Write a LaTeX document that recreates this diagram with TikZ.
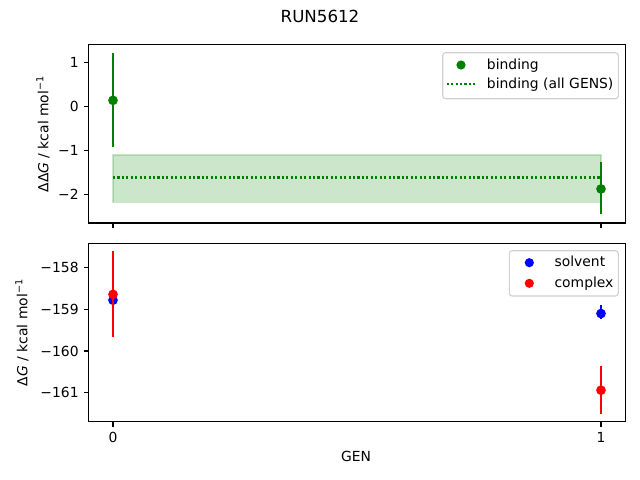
\documentclass[tikz,border=0pt]{standalone}
\usepackage{fontspec}
\setmainfont{DejaVu Sans}
\definecolor{mplgreen}{HTML}{008000}

\tikzset{
  lbl/.style={inner sep=0pt, font=\fontsize{10}{12}\selectfont},
  ebar/.style={line width=1.5pt},
  frame/.style={line width=0.8pt},
  tickmark/.style={line width=0.8pt},
  dotline/.style={mplgreen, line width=1.5pt, dash pattern=on 1.5pt off 1.7pt},
  legbox/.style={draw=black!18, fill=white, rounded corners=2pt, line width=0.8pt}
}

\begin{document}
\begin{tikzpicture}[x=0.72pt,y=-0.72pt]
  \useasboundingbox (0,0) rectangle (640,480);
  \node[lbl, font=\fontsize{12}{14}\selectfont, anchor=base] (title) at (320,22.3) {RUN5612};

  % binding panel
  \begin{scope}[shift={(81.36pt,-76.536pt)}, x=351.36pt, y=31.824pt]
    \filldraw[fill=mplgreen, draw=mplgreen, opacity=0.2, line width=1pt] (0,-2.175) rectangle (1,-1.105);
    \draw[dotline] (0,-1.61) -- (1,-1.61);
    \draw[mplgreen, ebar] (0,-0.91) -- (0,1.2);
    \fill[mplgreen] (0,0.135) circle[radius=3.5pt];
    \draw[mplgreen, ebar] (1,-2.43) -- (1,-1.26);
    \fill[mplgreen] (1,-1.87) circle[radius=3.5pt];
    \draw[frame] (-0.05,-2.64) rectangle (1.05,1.39);
    \foreach \v/\t in {1/1,0/0,-1/−1,-2/−2} {
      \draw[tickmark] (-0.05,\v) -- ++(-3.5pt,0);
      \node[lbl, anchor=east, xshift=-7pt] (ytop\v) at (-0.05,\v) {\t};
    }
    \foreach \g in {0,1}
      \draw[tickmark] (\g,-2.64) -- ++(0,-3.5pt);
  \end{scope}
  \node[lbl, rotate=90] (ylabtop) at (43,134) {ΔΔ\textit{G} / kcal mol\textsuperscript{−1}};

  \draw[legbox] (442.7,52.7) rectangle (618.3,98.7);
  \fill[mplgreen] (461,65) circle[radius=3.3pt];
  \node[lbl, anchor=base west] (legbind) at (486.7,69) {binding};
  \draw[dotline] (446.7,84.3) -- (474.5,84.3);
  \node[lbl, anchor=base west] (legall) at (486.7,88.3) {binding (all GENS)};

  % solvent / complex panel
  \begin{scope}[shift={(81.36pt,4547.64pt)}, x=351.36pt, y=30.0024pt]
    \draw[blue, ebar] (0,-158.86) -- (0,-158.70);
    \fill[blue] (0,-158.78) circle[radius=3.5pt];
    \draw[blue, ebar] (1,-159.24) -- (1,-158.9);
    \fill[blue] (1,-159.1) circle[radius=3.5pt];
    \draw[red, ebar] (0,-159.66) -- (0,-157.6);
    \fill[red] (0,-158.64) circle[radius=3.5pt];
    \draw[red, ebar] (1,-161.5) -- (1,-160.36);
    \fill[red] (1,-160.94) circle[radius=3.5pt];
    \draw[frame] (-0.05,-161.70) rectangle (1.05,-157.41);
    \foreach \v in {158,159,160,161} {
      \draw[tickmark] (-0.05,-\v) -- ++(-3.5pt,0);
      \node[lbl, anchor=east, xshift=-7pt] (ybot\v) at (-0.05,-\v) {−\v};
    }
    \foreach \g in {0,1} {
      \draw[tickmark] (\g,-161.70) -- ++(0,-3.5pt);
      \node[lbl, anchor=north, yshift=-7.5pt] (xbot\g) at (\g,-161.70) {\g};
    }
  \end{scope}
  \node[lbl, rotate=90] (ylabbot) at (22,332.5) {Δ\textit{G} / kcal mol\textsuperscript{−1}};
  \node[lbl, anchor=base] (xlab) at (356,461.7) {GEN};

  \draw[legbox] (509.3,250.7) rectangle (618.3,296);
  \fill[blue] (529.3,262.7) circle[radius=3.3pt];
  \node[lbl, anchor=base west] (legsolv) at (554.3,266.7) {solvent};
  \fill[red] (529.3,283.3) circle[radius=3.3pt];
  \node[lbl, anchor=base west] (legcplx) at (554.3,287.3) {complex};
\end{tikzpicture}
\end{document}
